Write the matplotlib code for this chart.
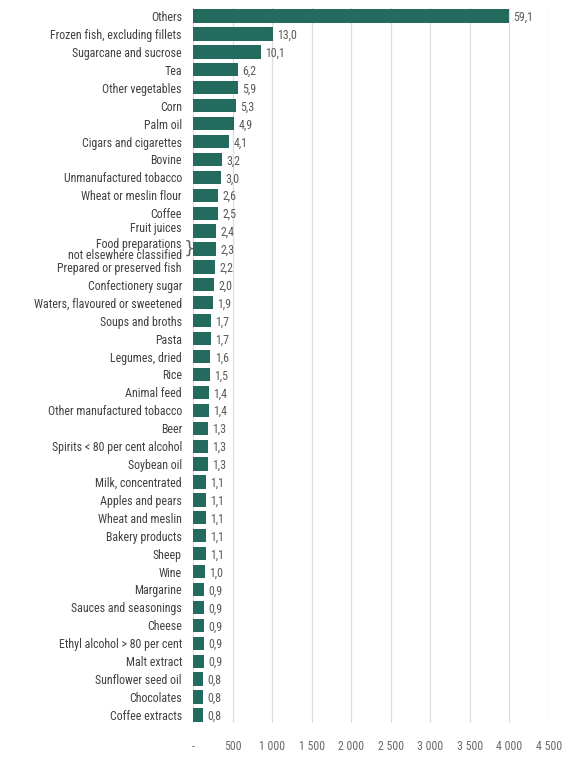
import matplotlib
matplotlib.use('Agg')
import matplotlib.pyplot as plt
from matplotlib import font_manager
from matplotlib.transforms import offset_copy

# 細いフォントがあれば使う
cands = ['Liberation Sans Narrow', 'Roboto Condensed', 'Open Sans Condensed', 'DejaVu Sans Condensed']
names = {f.name for f in font_manager.fontManager.ttflist}
found = [c for c in cands if c in names]
if found:
    plt.rcParams['font.family'] = [found[0], 'DejaVu Sans']
    fs = 8.6
else:
    plt.rcParams['font.family'] = ['Liberation Sans', 'DejaVu Sans']
    fs = 8.0

# 品目
categories = [
    "Others", "Frozen fish, excluding fillets", "Sugarcane and sucrose", "Tea",
    "Other vegetables", "Corn", "Palm oil", "Cigars and cigarettes", "Bovine",
    "Unmanufactured tobacco", "Wheat or meslin flour", "Coffee", "Fruit juices",
    "Food preparations\nnot elsewhere classified", "Prepared or preserved fish",
    "Confectionery sugar", "Waters, flavoured or sweetened", "Soups and broths",
    "Pasta", "Legumes, dried", "Rice", "Animal feed", "Other manufactured tobacco",
    "Beer", "Spirits < 80 per cent alcohol", "Soybean oil", "Milk, concentrated",
    "Apples and pears", "Wheat and meslin", "Bakery products", "Sheep", "Wine",
    "Margarine", "Sauces and seasonings", "Cheese", "Ethyl alcohol > 80 per cent",
    "Malt extract", "Sunflower seed oil", "Chocolates", "Coffee extracts",
]
# 棒の長さ(読み取り値)
values = [
    3990, 1006, 858, 568, 564, 545, 518, 455, 366, 354, 320, 316, 290, 290,
    278, 265, 253, 227, 227, 220, 215, 202, 202, 190, 190, 190, 164, 164,
    164, 164, 164, 152, 139, 139, 139, 139, 139, 126, 126, 126,
]
# ラベル(%)
shares = [
    "59,1", "13,0", "10,1", "6,2", "5,9", "5,3", "4,9", "4,1", "3,2", "3,0",
    "2,6", "2,5", "2,4", "2,3", "2,2", "2,0", "1,9", "1,7", "1,7", "1,6",
    "1,5", "1,4", "1,4", "1,3", "1,3", "1,3", "1,1", "1,1", "1,1", "1,1",
    "1,1", "1,0", "0,9", "0,9", "0,9", "0,9", "0,9", "0,8", "0,8", "0,8",
]
xticks = [0, 500, 1000, 1500, 2000, 2500, 3000, 3500, 4000, 4500]
xticklabels = ["-", "500", "1 000", "1 500", "2 000", "2 500", "3 000", "3 500", "4 000", "4 500"]

fig = plt.figure(figsize=(5.82, 7.6), dpi=100)
ax = fig.add_axes([193 / 582, 1 - 723 / 760, (549 - 193) / 582, 715 / 760])

y = list(range(len(categories)))
ax.barh(y, values, height=0.74, color='#236b5e', zorder=2)

for i, (v, s) in enumerate(zip(values, shares)):
    ax.text(v + 55, i + 0.08, s, va='center', ha='left', fontsize=fs, color='#5a5a5a')

ax.set_xlim(0, 4500)
ax.set_ylim(len(categories) - 0.55, -0.45)
ax.set_yticks(y)
ax.set_yticklabels(categories, fontsize=fs, color='#404040', linespacing=0.82)
ax.set_xticks(xticks)
ax.set_xticklabels(xticklabels, fontsize=fs, color='#6a6a6a')
ax.tick_params(axis='both', length=0)
ax.tick_params(axis='y', pad=8)
ax.tick_params(axis='x', pad=12)
ax.grid(axis='x', color='#dedede', linewidth=0.9, zorder=0)
for sp in ax.spines.values():
    sp.set_visible(False)

# Fruit juices は少し上
lbls = ax.get_yticklabels()
fj = categories.index("Fruit juices")
lbls[fj].set_transform(offset_copy(lbls[fj].get_transform(), fig=fig, y=4, units='dots'))

# 括弧
idx = categories.index("Food preparations\nnot elsewhere classified")
ax.text(-50, idx, "}", ha='center', va='center', fontsize=13, color='#666666',
        family='DejaVu Sans')

plt.savefig('out.png', dpi=100)
